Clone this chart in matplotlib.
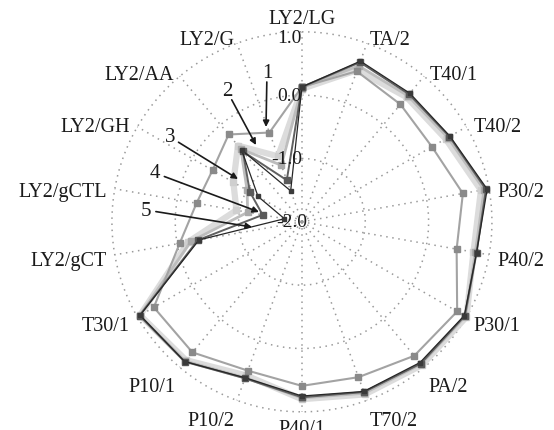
"""
Radar chart of five sample groups over 18 indicators
"""

import numpy as np
import matplotlib.pyplot as plt

plt.rcParams['font.family'] = ['Liberation Serif', 'DejaVu Serif']

# clockwise from the top
categories = ['LY2/LG', 'TA/2', 'T40/1', 'T40/2', 'P30/2', 'P40/2', 'P30/1',
              'PA/2', 'T70/2', 'P40/1', 'P10/2', 'P10/1', 'T30/1',
              'LY2/gCT', 'LY2/gCTL', 'LY2/GH', 'LY2/AA', 'LY2/G']

series_1 = [0.13, 0.53, 0.42, 0.37, 0.58, 0.48, 0.83, 0.76, 0.61, 0.59,
            0.50, 0.69, 0.70, -0.04, -0.31, -0.37, -0.20, -0.50]
series_2 = [0.10, 0.55, 0.57, 0.62, 0.87, 0.75, 1.00, 0.95, 0.90, 0.80,
            0.58, 0.85, 0.95, -0.18, -0.95, -0.75, -0.43, -0.90]
series_3 = [0.12, 0.62, 0.60, 0.66, 0.92, 0.78, 0.98, 0.93, 0.88, 0.78,
            0.62, 0.87, 0.96, -0.22, -1.13, -1.00, -0.50, -1.05]
series_4 = [0.13, 0.68, 0.63, 0.69, 0.95, 0.80, 0.97, 0.92, 0.86, 0.77,
            0.63, 0.88, 0.96, -0.33, -1.37, -1.05, -0.55, -1.30]
series_5 = [0.13, 0.70, 0.65, 0.70, 0.97, 0.80, 0.96, 0.90, 0.85, 0.75,
            0.62, 0.88, 0.95, -0.35, -1.72, -1.20, -0.52, -1.48]

r_ticks = [1.0, 0.0, -1.0, -2.0]
r_tick_labels = ['1.0', '0.0', '-1.0', '-2.0']

# number labels with arrows (figure pixels, y measured from the top)
callouts = ['1', '2', '3', '4', '5']
callout_text_xy = [(267, 73), (227, 92), (170, 138), (155, 174), (146, 211)]
callout_tip_xy = [(266, 128), (256, 146), (238, 180), (259, 213), (252, 228)]

W, H = 554, 431

fig = plt.figure(figsize=(W / 100, H / 100), dpi=100)
ax = fig.add_axes([0.202, 0.042, 0.686, 0.882], projection='polar')
ax.set_theta_zero_location('N')
ax.set_theta_direction(-1)
ax.set_ylim(-2, 1)
ax.set_axis_off()

theta = np.deg2rad(np.arange(len(categories)) * 360 / len(categories))
theta_c = np.append(theta, theta[0])
ring = np.linspace(0, 2 * np.pi, 361)

# dotted grid: rings + spokes
grid_kw = dict(color='#9a9a9a', lw=1.1, ls=(0, (1, 3)), clip_on=False,
               zorder=1)
for v in r_ticks[:-1]:
    ax.plot(ring, [v] * len(ring), **grid_kw)
for t in theta:
    ax.plot([t, t], [-2, 1], **grid_kw)

# series styles: (values, color, width, marker color, marker size)
styles = [
    (series_2, '#dcdcdc', 4.5, '#cfcfcf', 5),
    (series_3, '#bdbdbd', 2.0, '#aaaaaa', 4),
    (series_1, '#a3a3a3', 1.5, '#8a8a8a', 4.5),
    (series_4, '#606060', 1.4, '#5a5a5a', 4),
    (series_5, '#262626', 0.9, '#3a3a3a', 3.5),
]
for vals, col, lw, mcol, ms in styles:
    v = np.append(vals, vals[0])
    ax.plot(theta_c, v, color=col, lw=lw, marker='s', ms=ms,
            mfc=mcol, mec=mcol, clip_on=False, zorder=3)

# category labels
for t, lab in zip(theta, categories):
    s, c = np.sin(t), np.cos(t)
    ha = 'left' if s > 0.3 else ('right' if s < -0.3 else 'center')
    if c > 0.95:
        va, off = 'bottom', 3
    elif c < -0.7:
        va, off = 'top', 5
    else:
        va, off = 'center', 6
    ax.annotate(lab, xy=(t, 1.0),
                xytext=(s * off, c * off - 3 * (abs(c) < 0.95)),
                textcoords='offset points', ha=ha, va=va, fontsize=14.5,
                color='#1a1a1a', annotation_clip=False)

# radial tick labels along the top spoke
for v, txt in zip(r_ticks, r_tick_labels):
    ax.annotate(txt, xy=(0, v), xytext=(4 if v == -2 else 0, -4 if v == 1 else 0),
                textcoords='offset points', ha='right', va='center',
                fontsize=14, color='#1a1a1a', annotation_clip=False, zorder=4)

# numbered arrows
for lab, (tx, ty), (px, py) in zip(callouts, callout_text_xy, callout_tip_xy):
    fig.text(tx / W, 1 - ty / H, lab, ha='center', va='center', fontsize=15,
             color='#1a1a1a')
    dx, dy = px - tx, py - ty
    d = np.hypot(dx, dy)
    sx, sy = tx + dx / d * 10, ty + dy / d * 10
    ax.annotate('', xy=(px, H - py), xycoords='figure pixels',
                xytext=(sx, H - sy), textcoords='figure pixels',
                arrowprops=dict(arrowstyle='-|>', color='#1a1a1a', lw=1.2,
                                mutation_scale=9, shrinkA=0, shrinkB=0),
                zorder=6)

plt.savefig('out.png', dpi=100)
plt.close()
